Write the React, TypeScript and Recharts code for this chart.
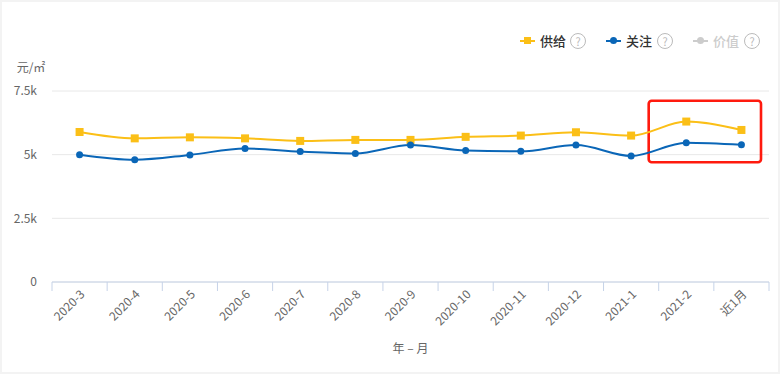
import { LineChart, Line, XAxis, YAxis, CartesianGrid, ReferenceArea, Label } from "recharts"

const MONTHS = ['2020-3', '2020-4', '2020-5', '2020-6', '2020-7', '2020-8', '2020-9', '2020-10', '2020-11', '2020-12', '2021-1', '2021-2', '近1月']
const SUPPLY = [5890, 5640, 5680, 5640, 5540, 5580, 5580, 5700, 5750, 5880, 5750, 6300, 5970]
const FOCUS = [5000, 4800, 4990, 5240, 5120, 5050, 5380, 5160, 5130, 5380, 4950, 5470, 5390]
const Y_TICKS = [0, 2500, 5000, 7500]

const FONT = '"Noto Sans CJK SC", "Noto Sans", sans-serif'
const YELLOW = '#fbbf17'
const BLUE = '#0a66b7'
const AXIS = '#c6d3e8'

const data = MONTHS.map((m, i) => ({ month: m, supply: SUPPLY[i], focus: FOCUS[i] }))

const fmtK = (v: number) => (v === 0 ? '0' : `${v / 1000}k`)

// labels sit at band centres, tick marks at band edges
function RotatedTick({ x, y, payload, index }: any) {
  const half = payload.offset || 0
  const last = index === MONTHS.length - 1
  const tx = x + 6
  const ty = y + 3
  return (
    <g>
      <line x1={x - half} x2={x - half} y1={y - 10} y2={y - 1} stroke={AXIS} />
      {last && <line x1={x + half} x2={x + half} y1={y - 10} y2={y - 1} stroke={AXIS} />}
      <text
        x={tx}
        y={ty}
        transform={`rotate(-45, ${tx}, ${ty})`}
        textAnchor="end"
        fontSize={12}
        fill="#666"
        fontFamily={FONT}
      >
        {payload.value}
      </text>
    </g>
  )
}

function Help({ left }: { left: number }) {
  return (
    <div
      style={{
        position: 'absolute', left, top: 33, width: 14, height: 14, borderRadius: 8,
        border: '1px solid #bbb', color: '#bbb', fontSize: 11, lineHeight: '14px',
        textAlign: 'center', fontFamily: FONT,
      }}
    >
      ?
    </div>
  )
}

function LegendItem({ left, color, text, textColor, marker }: any) {
  return (
    <>
      <div style={{ position: 'absolute', left, top: 40, width: 15, height: 2, background: color }} />
      <div
        style={{
          position: 'absolute', left: left + 4, top: 37, width: 7, height: 7, background: color,
          borderRadius: marker === 'circle' ? 4 : 0,
        }}
      />
      <div
        style={{
          position: 'absolute', left: left + 20, top: 32, fontSize: 13, lineHeight: '18px',
          color: textColor, fontFamily: FONT, fontWeight: 500,
        }}
      >
        {text}
      </div>
    </>
  )
}

function RedBox({ x, y, width, height }: any) {
  return (
    <rect x={x - 10} y={y} width={width + 2} height={height} rx={3} ry={3} fill="none" stroke="#ff1a0e" strokeWidth={2.6} />
  )
}

export default function App() {
  return (
    <div
      style={{
        position: 'absolute', left: 0, top: 0, width: 780, height: 374, boxSizing: 'border-box',
        border: '2px solid #f3f3f3', background: '#fff',
      }}
    >
      <div style={{ position: 'absolute', left: -2, top: -2 }}>
        <LineChart width={782} height={377} data={data} margin={{ top: 91, right: 13, bottom: 0, left: 0 }}>
          <CartesianGrid vertical={false} stroke="#e8e8e8" />
          <XAxis
            dataKey="month"
            scale="band"
            height={95}
            tick={<RotatedTick />}
            tickLine={false}
            tickSize={9}
            tickMargin={1}
            interval={0}
            stroke={AXIS}
          >
            <Label value="年 – 月" position="insideBottom" offset={24} fontSize={12} fill="#666" fontFamily={FONT} />
          </XAxis>
          <YAxis
            width={52}
            domain={[0, 7500]}
            ticks={Y_TICKS}
            tickFormatter={fmtK}
            axisLine={false}
            tickLine={false}
            tickSize={0}
            tickMargin={15}
            tick={{ fontSize: 12, fill: '#666', fontFamily: FONT }}
          >
            <Label
              content={({ viewBox }: any) => (
                <text x={viewBox.x + 31} y={viewBox.y - 19} textAnchor="middle" fontSize={12} fill="#666" fontFamily={FONT}>
                  元/㎡
                </text>
              )}
            />
          </YAxis>
          <ReferenceArea x1="2021-2" x2="近1月" y1={4700} y2={7120} shape={<RedBox />} ifOverflow="visible" />
          <Line
            type="monotone"
            dataKey="supply"
            stroke={YELLOW}
            strokeWidth={2}
            isAnimationActive={false}
            dot={(p: any) => <rect key={p.index} x={p.cx - 4} y={p.cy - 4} width={8} height={8} fill={YELLOW} />}
          />
          <Line
            type="monotone"
            dataKey="focus"
            stroke={BLUE}
            strokeWidth={2}
            isAnimationActive={false}
            dot={{ r: 3.5, fill: BLUE, stroke: BLUE, strokeWidth: 0 }}
          />
        </LineChart>
        <LegendItem left={520} color={YELLOW} text="供给" textColor="#333" marker="square" />
        <Help left={570} />
        <LegendItem left={606} color={BLUE} text="关注" textColor="#333" marker="circle" />
        <Help left={657} />
        <LegendItem left={693} color="#ccc" text="价值" textColor="#ccc" marker="circle" />
        <Help left={744} />
      </div>
    </div>
  )
}
